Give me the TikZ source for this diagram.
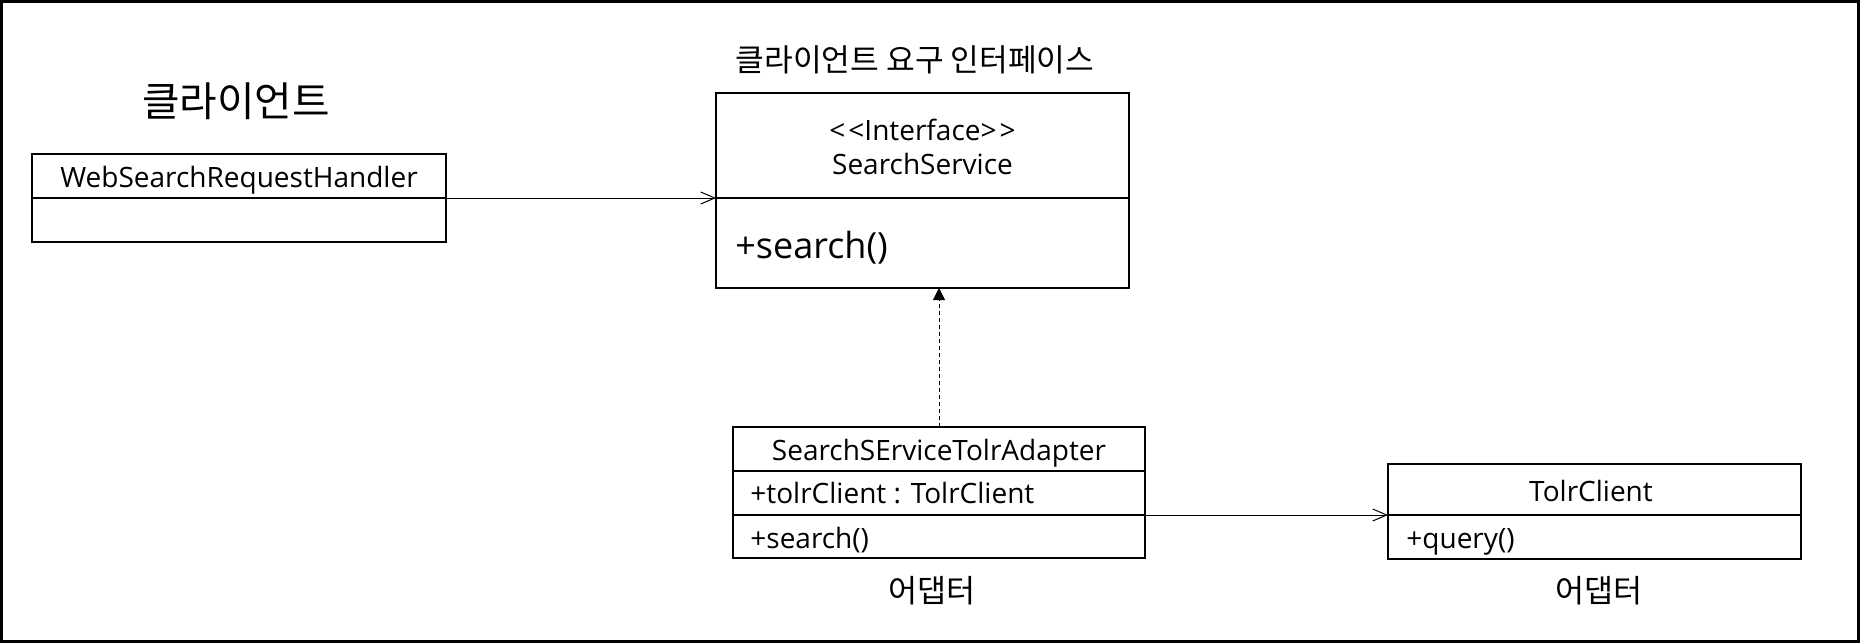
\documentclass[tikz,border=0pt]{standalone}
\usepackage{fontspec}
\setmainfont{Open Sans}
\newfontfamily\kr{Noto Sans CJK KR}
\usetikzlibrary{arrows.meta}
\begin{document}
\begin{tikzpicture}[x=0.5pt,y=-0.5pt,
  umlbox/.style={draw,line width=1pt,inner sep=0pt,outer sep=0pt,anchor=north west},
  divider/.style={line width=1pt},
  lbl/.style={inner sep=0pt,font=\fontsize{14}{16}\selectfont},
  krlbl/.style={inner sep=0pt,font=\kr\fontsize{15.8}{18}\selectfont},
  assoc/.style={line width=0.5pt,-{Straight Barb[length=7pt,width=6pt]}},
  realize/.style={line width=0.5pt,dash pattern=on 2pt off 1.5pt,-{Triangle[length=6pt,width=6pt]}}]
\useasboundingbox (0,0) rectangle (1860,643);
\draw[line width=1.5pt] (1.5,1.5) rectangle (1858.5,641.5);

% titles
\node[inner sep=0pt,font=\kr\fontsize{20.4}{24}\selectfont] (tclient) at (236,101) {클라이언트};
\node[inner sep=0pt,font=\kr\fontsize{15.6}{18}\selectfont] (tiface) at (915,60) {클라이언트 요구 인터페이스};

% WebSearchRequestHandler
\node[umlbox,minimum width=207pt,minimum height=44pt] (ws) at (32,154) {};
\coordinate (wsdl) at (32,198);
\coordinate (wsdr) at (446,198);
\draw[divider] (wsdl) -- (wsdr);
\node[lbl,anchor=base] (wsname) at (239,187) {WebSearchRequestHandler};

% SearchService interface
\node[umlbox,minimum width=206.5pt,minimum height=97.5pt] (if) at (716,93) {};
\coordinate (ifdl) at (716,198);
\coordinate (ifdr) at (1129,198);
\draw[divider] (ifdl) -- (ifdr);
\node[lbl,anchor=base] (ifst) at (922.5,140) {<\kern1.5pt<Interface>\kern1.5pt>};
\node[lbl,anchor=base] (ifname) at (922.5,174) {SearchService};
\node[lbl,anchor=base west,font=\fontsize{18}{21}\selectfont] (ifop) at (735,258) {+search()};

% Adapter
\node[umlbox,minimum width=206pt,minimum height=65.5pt] (ad) at (733,427) {};
\coordinate (add1l) at (733,471);
\coordinate (add1r) at (1145,471);
\coordinate (add2l) at (733,515);
\coordinate (add2r) at (1145,515);
\draw[divider] (add1l) -- (add1r);
\draw[divider] (add2l) -- (add2r);
\node[lbl,anchor=base] (adname) at (939,460) {SearchSErviceTolrAdapter};
\node[lbl,anchor=base west] (adattr) at (750,503) {+tolrClient : TolrClient};
\node[lbl,anchor=base west] (adop) at (750,548) {+search()};
\node[krlbl] (adcap) at (932,591) {어댑터};

% TolrClient
\node[umlbox,minimum width=206.5pt,minimum height=47.5pt] (tc) at (1388,464) {};
\coordinate (tcdl) at (1388,515);
\coordinate (tcdr) at (1801,515);
\draw[divider] (tcdl) -- (tcdr);
\node[lbl,anchor=base] (tcname) at (1591,501) {TolrClient};
\node[lbl,anchor=base west] (tcop) at (1406,548) {+query()};
\node[krlbl] (tccap) at (1599,591) {어댑터};

% connectors
\draw[assoc] (wsdr) -- (ifdl);
\draw[realize] (ad.north) -- (ad.north |- if.south);
\draw[assoc] (add2r) -- (tcdl);
\end{tikzpicture}
\end{document}
